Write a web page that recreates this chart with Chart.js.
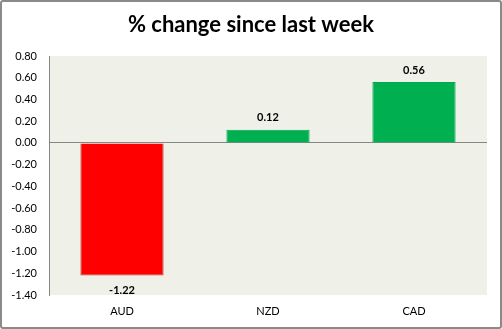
<!DOCTYPE html>
<html>
<head>
<meta charset="utf-8">
<script src="https://cdn.jsdelivr.net/npm/chart.js@4/dist/chart.umd.min.js"></script>
<style>
	html, body { margin: 0; padding: 0; background: #fff; }
	#wrap { position: relative; width: 502px; height: 329px; }
	#frame { position: absolute; left: 0; top: 0; right: 0; bottom: 0; box-sizing: border-box;
		border: 2px solid #8a8a8a; border-radius: 3px; pointer-events: none; }
</style>
</head>
<body>
<div id="wrap">
	<canvas id="myChartOne" width="502" height="329"></canvas>
	<div id="frame"></div>
</div>
<script>
/* data */
const currencies = ["AUD", "NZD", "CAD"];
const changes = [-1.22, 0.12, 0.56];
const barColors = ["#ff0000", "#00b050", "#00b050"];
const barBorders = ["#b4453a", "#00a84c", "#00a84c"];
const chartTitle = "% change since last week";

const fontFamily = "Lato, 'Open Sans', sans-serif";

/* plot background */
const plotBg = {
	id: "plotBg",
	beforeDraw(chart) {
		const a = chart.chartArea;
		const ctx = chart.ctx;
		ctx.save();
		ctx.fillStyle = "#eff1e9";
		ctx.fillRect(a.left, a.top, a.right - a.left, a.bottom - a.top);
		ctx.restore();
	}
};

/* value labels */
const valueLabels = {
	id: "valueLabels",
	afterDatasetsDraw(chart) {
		const ctx = chart.ctx;
		const meta = chart.getDatasetMeta(0);
		ctx.save();
		ctx.font = "bold 11px " + fontFamily;
		ctx.fillStyle = "#000";
		ctx.textAlign = "center";
		ctx.textBaseline = "middle";
		meta.data.forEach(function(bar, i) {
			let v = changes[i];
			let y = v < 0 ? bar.y + 15 : bar.y - 12;
			ctx.fillText(v.toFixed(2), bar.x, y);
		});
		ctx.restore();
	}
};

const ctx = document.getElementById("myChartOne").getContext("2d");

const barChart = new Chart(ctx, {
	type: "bar",
	data: {
		labels: currencies,
		datasets: [{
			data: changes,
			backgroundColor: barColors,
			borderColor: barBorders,
			borderWidth: 1,
			barPercentage: 0.57,
			categoryPercentage: 1
		}]
	},
	options: {
		responsive: false,
		animation: false,
		layout: { padding: 0 },
		plugins: {
			legend: { display: false },
			tooltip: { enabled: false },
			title: {
				display: true,
				text: chartTitle,
				color: "#000",
				font: { family: fontFamily, size: 22, weight: "bold", lineHeight: 1.2 },
				padding: { top: 12, bottom: 17.6 }
			}
		},
		scales: {
			x: {
				grid: { display: false, drawTicks: false },
				border: { display: false },
				ticks: { color: "#000", padding: 10, font: { family: fontFamily, size: 11 } },
				afterFit: function(scale) { scale.height = 34; }
			},
			y: {
				min: -1.4,
				max: 0.8,
				ticks: {
					stepSize: 0.2,
					color: "#000",
					padding: 12,
					font: { family: fontFamily, size: 11 },
					callback: function(v) { return Number(v).toFixed(2); }
				},
				grid: {
					drawTicks: false,
					color: function(c) {
						return (c.tick && Math.abs(c.tick.value) < 1e-9) ? "#868686" : "rgba(0,0,0,0)";
					}
				},
				border: { display: true, color: "#868686" },
				afterFit: function(scale) { scale.width = 49; }
			},
			/* empty right margin */
			yRight: {
				position: "right",
				min: -1.4,
				max: 0.8,
				grid: { display: false, drawTicks: false },
				border: { display: false },
				ticks: { display: false },
				afterFit: function(scale) { scale.width = 15; }
			}
		}
	},
	plugins: [plotBg, valueLabels]
});
</script>
</body>
</html>
